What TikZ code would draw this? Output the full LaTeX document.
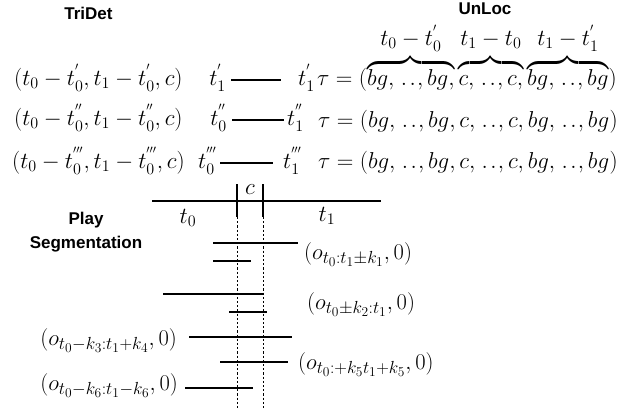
\documentclass[tikz,border=0pt]{standalone}
\usepackage{fix-cm}
\usepackage{amsmath}
\usepackage{fontspec}
\newfontfamily\hdfont{Liberation Sans}
\DeclareMathSizes{23}{23}{16.1}{11.5}
\DeclareMathSizes{22.5}{22.5}{17.5}{13.5}
\newcommand{\dd}{,\mkern2mu.\mkern2mu.\mkern1mu,}
\newcommand{\lbl}[1]{\hbox to 0pt{\hss$\textstyle #1$\rule[-10pt]{0pt}{10pt}\hss}}
\newcommand{\bstrut}{\rule{0pt}{18pt}}
\begin{document}
\begin{tikzpicture}[x=1pt,y=-1pt,
  seg/.style={line width=2.6pt},
  guide/.style={line width=0.8pt, dash pattern=on 2.2pt off 2pt},
  hd/.style={font=\hdfont\bfseries\fontsize{17}{24}\selectfont, inner sep=0pt},
  mA/.style={font=\fontsize{23}{27}\selectfont, inner sep=0pt},
  mB/.style={font=\fontsize{22.5}{26}\selectfont, inner sep=0pt},
  tk/.style={mA, text height=12pt, text depth=2pt}]
\useasboundingbox (0,0) rectangle (635,413);
% headings
\node[hd] (tridet) at (88.5,13) {TriDet};
\node[hd] (unloc) at (485,9) {UnLoc};
\node[hd, align=center] (play) at (86,232) {Play\\Segmentation};
% TriDet rows
\node[mA, anchor=base west] (e1) at (14,85) {$(t_0-t_0^{'},t_1-t_0^{'},c)$};
\node[mA, anchor=base west] (e2) at (14,125) {$(t_0-t_0^{''},t_1-t_0^{''},c)$};
\node[mA, anchor=base west] (e3) at (12,168) {$(t_0-t_0^{'''},t_1-t_0^{'''},c)$};
\node[tk, anchor=base east] (a1) at (226,85) {$t_1^{'}$};
\node[tk, anchor=base west] (b1) at (298,85) {$t_1^{'}$};
\node[tk, anchor=base east] (a2) at (227,125) {$t_0^{''}$};
\node[tk, anchor=base west] (b2) at (287,125) {$t_1^{''}$};
\node[tk, anchor=base east] (a3) at (217,168) {$t_0^{'''}$};
\node[tk, anchor=base west] (b3) at (283,168) {$t_1^{'''}$};
\draw[seg, shorten <=5pt, shorten >=17pt] (a1.east) -- (b1.west);
\draw[seg, shorten <=5pt, shorten >=3pt] (a2.east) -- (b2.west);
\draw[seg, shorten <=3pt, shorten >=10pt] (a3.east) -- (b3.west);
% UnLoc rows
\node[mA, anchor=base west] (u1) at (317,85) {$\tau = (\overbrace{\bstrut bg\dd bg,}^{\lbl{t_0-t_0^{'}}}\overbrace{\bstrut c\dd c,}^{\lbl{t_1-t_0}}\overbrace{\bstrut bg\dd bg}^{\lbl{t_1-t_1^{'}}})$};
\node[mA, anchor=base west] (u2) at (318,127) {$\tau = (bg\dd bg,c\dd c,bg\dd bg)$};
\node[mA, anchor=base west] (u3) at (318,168) {$\tau = (bg\dd bg,c\dd c,bg\dd bg)$};
% timeline
\coordinate (tlA) at (152,201);
\coordinate (tlB) at (381,201);
\coordinate (k0t) at (237,184);
\coordinate (k0b) at (237,217);
\coordinate (k0e) at (237,408);
\coordinate (k1t) at (263,184);
\coordinate (k1b) at (263,217);
\coordinate (k1e) at (263,408);
\draw[seg] (tlA) -- (tlB);
\draw[seg] (k0t) -- (k0b);
\draw[seg] (k1t) -- (k1b);
\draw[guide] (k0b) -- (k0e);
\draw[guide] (k1b) -- (k1e);
\node[mA] (cc) at (250,190) {$c$};
\node[mA] (tz) at (188,218) {$t_0$};
\node[mA] (to) at (327,216) {$t_1$};
% play segments
\coordinate (s1a) at (213,243); \coordinate (s1b) at (298,243);
\coordinate (s2a) at (213,261); \coordinate (s2b) at (251,261);
\coordinate (s3a) at (163,294); \coordinate (s3b) at (264,294);
\coordinate (s4a) at (229,312); \coordinate (s4b) at (267,312);
\coordinate (s5a) at (189,337); \coordinate (s5b) at (292,337);
\coordinate (s6a) at (220,362); \coordinate (s6b) at (288,362);
\coordinate (s7a) at (185,388); \coordinate (s7b) at (253,388);
\foreach \s in {1,...,7} {\draw[seg] (s\s a) -- (s\s b);}
\node[mB, anchor=base west] (l1) at (304,259) {$(o_{t_0:t_1\pm k_1},0)$};
\node[mB, anchor=base west] (l2) at (307,309) {$(o_{t_0\pm k_2:t_1},0)$};
\node[mB, anchor=base east] (l3) at (177,345) {$(o_{t_0-k_3:t_1+k_4},0)$};
\node[mB, anchor=base west] (l5) at (298,369) {$(o_{t_0:+k_5t_1+k_5},0)$};
\node[mB, anchor=base east] (l7) at (178,390) {$(o_{t_0-k_6:t_1-k_6},0)$};
\end{tikzpicture}
\end{document}
